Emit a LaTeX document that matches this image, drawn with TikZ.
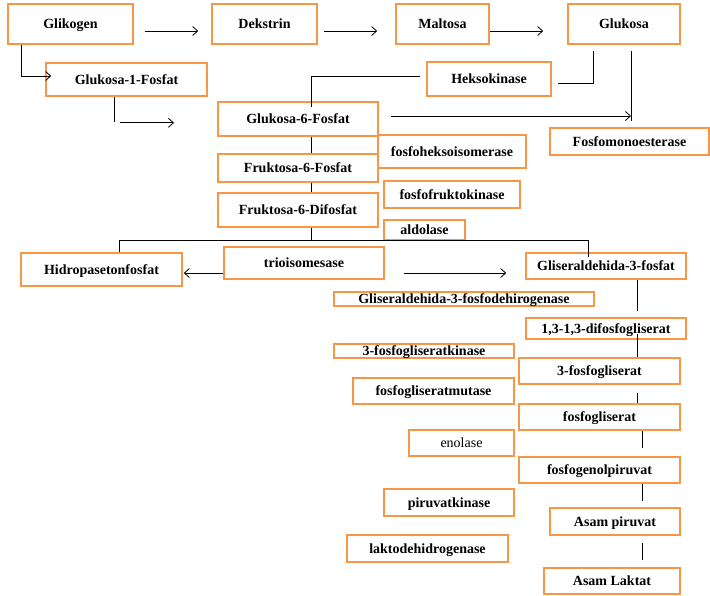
\documentclass[tikz,border=0pt]{standalone}
\usepackage{fontspec}
\setmainfont{Liberation Serif}
\usetikzlibrary{arrows.meta,calc}
\definecolor{boxorange}{RGB}{247,150,70}

\begin{document}
\begin{tikzpicture}[
  x=1pt,y=-1pt,
  compound/.style={draw=boxorange, line width=1.6pt, fill=white,
    inner sep=0pt, text height=11pt, text depth=2pt, align=center,
    font=\fontsize{14}{16}\selectfont\bfseries},
  enzyme/.style={compound},
  link/.style={line width=0.8pt, draw=black},
  path/.style={link, -{Straight Barb[length=5pt,width=9pt]}}
]
\useasboundingbox (0,0) rectangle (710,595);

\node[compound, minimum width=125, minimum height=40] (glikogen) at (70.5,24) {Glikogen};
\node[compound, minimum width=105, minimum height=40] (dekstrin) at (264.5,24) {Dekstrin};
\node[compound, minimum width=93, minimum height=40] (maltosa) at (442.5,24) {Maltosa};
\node[compound, minimum width=112, minimum height=40] (glukosa) at (624,24) {Glukosa};
\node[compound, minimum width=161, minimum height=33] (g1p) at (126.5,79.5) {Glukosa-1-Fosfat};
\node[enzyme, minimum width=124, minimum height=34] (heksokinase) at (489,79) {Heksokinase};
\node[compound, minimum width=160, minimum height=34] (g6p) at (298,119) {Glukosa-6-Fosfat};
\node[enzyme, minimum width=159, minimum height=27] (fosfomono) at (629.5,141.5) {Fosfomonoesterase};
\node[enzyme, minimum width=148, minimum height=33] (isomerase) at (452,151.5) {fosfoheksoisomerase};
\node[compound, minimum width=160, minimum height=28] (f6p) at (298,168) {Fruktosa-6-Fosfat};
\node[enzyme, minimum width=136, minimum height=27] (fruktokinase) at (452,194.5) {fosfofruktokinase};
\node[compound, minimum width=160, minimum height=34] (f6dp) at (298,210) {Fruktosa-6-Difosfat};
\node[enzyme, minimum width=81, minimum height=20] (aldolase) at (424.5,230) {aldolase};
\node[compound, minimum width=161, minimum height=33] (hidro) at (101.5,269.5) {Hidropasetonfosfat};
\node[enzyme, minimum width=160, minimum height=32] (trio) at (304,263) {trioisomesase};
\node[compound, minimum width=160, minimum height=26] (g3p) at (606,266) {Gliseraldehida-3-fosfat};
\node[enzyme, minimum width=260, minimum height=14] (g3pdh) at (464,299) {Gliseraldehida-3-fosfodehirogenase};
\node[compound, minimum width=160, minimum height=21] (difosfo) at (606,328.5) {1,3-1,3-difosfogliserat};
\node[enzyme, minimum width=180, minimum height=14] (gkinase) at (424,351) {3-fosfogliseratkinase};
\node[compound, minimum width=161, minimum height=26] (fg3) at (599.5,371) {3-fosfogliserat};
\node[enzyme, minimum width=161, minimum height=26] (mutase) at (433.5,391) {fosfogliseratmutase};
\node[compound, minimum width=161, minimum height=26] (fg2) at (599.5,417) {fosfogliserat};
\node[enzyme, minimum width=105, minimum height=26, font=\fontsize{14}{16}\selectfont] (enolase) at (461.5,443) {enolase};
\node[compound, minimum width=161, minimum height=26] (pep) at (599.5,470) {fosfogenolpiruvat};
\node[enzyme, minimum width=130, minimum height=27] (pkinase) at (449,502.5) {piruvatkinase};
\node[compound, minimum width=130, minimum height=27] (piruvat) at (615,521.5) {Asam piruvat};
\node[enzyme, minimum width=161, minimum height=27] (ldh) at (427.5,548.5) {laktodehidrogenase};
\node[compound, minimum width=136, minimum height=26] (laktat) at (612,581) {Asam Laktat};

\draw[path] ($(glikogen.east)+(11,7)$) -- ($(dekstrin.west)+(-13,7)$);
\draw[path] ($(dekstrin.east)+(6,7)$) -- ($(maltosa.west)+(-18,7)$);
\draw[path] ($(maltosa.east)+(0,7)$) -- ($(glukosa.west)+(-24,7)$);
\draw[path] ($(glikogen.south west)+(14,0)$) |- ($(g1p.west)+(6,-3.5)$);
\draw[link] ($(g1p.south)+(-12.5,0)$) -- ++(0,25);
\draw[path] ($(g1p.south)+(-6.5,26)$) -- ++(54,0);
\draw[link] ($(heksokinase.west)+(-6,-3)$) -| ($(g6p.north)+(13,6)$);
\draw[link] ($(heksokinase.east)+(6,4)$) -| ($(glukosa.south)+(-31,6)$);
\coordinate (gtop) at ($(glukosa.south)+(7,6)$);
\draw[link] (gtop) -- ($(fosfomono.north)+(1.5,-6)$);
\draw[path] ($(g6p.east)+(12,-3)$) coordinate (gstart) -- (gstart -| gtop);
\draw[link] ($(g6p.south)+(13,0)$) -- ($(f6p.north)+(13,0)$);
\draw[link] ($(f6p.south)+(13,0)$) -- ($(f6dp.north)+(13,0)$);
\coordinate (split) at ($(f6dp.south)+(13,13)$);
\draw[link] ($(f6dp.south)+(13,0)$) -- (split);
\draw[link] ($(hidro.north)+(17.5,0)$) |- (split) -| ($(g3p.north)+(-18,5)$);
\draw[path] ($(trio.west)+(0,10)$) -- ($(hidro.east)+(1,3.5)$);
\draw[path] ($(trio.east)+(19,10)$) -- ($(g3p.west)+(-19,7)$);
\draw[link] ($(g3p.south)+(31,0)$) -- ($(difosfo.north)+(31,-6)$);
\draw[link] ($(difosfo.south)+(31,-6)$) -- ($(fg3.north)+(37.5,0)$);
\draw[link] ($(fg3.south)+(37.5,8)$) -- ($(fg2.north)+(37.5,0)$);
\draw[link] ($(fg2.south)+(42.5,0)$) -- ($(pep.north)+(42.5,-8)$);
\draw[link] ($(pep.south)+(42.5,0)$) -- ($(piruvat.north)+(27,-6)$);
\draw[link] ($(piruvat.south)+(27,7)$) -- ($(laktat.north)+(30,-7)$);
\end{tikzpicture}
\end{document}
